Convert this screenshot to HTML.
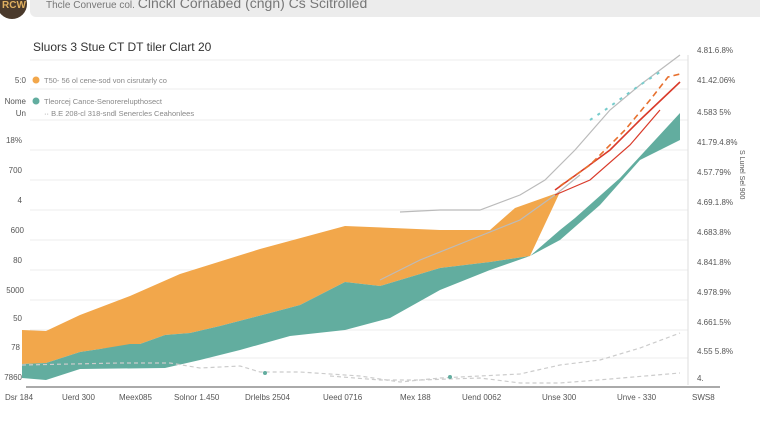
<!DOCTYPE html>
<html><head><meta charset="utf-8"><style>
body{margin:0;width:760px;height:426px;background:#fff;overflow:hidden;font-family:"Liberation Sans",sans-serif}
</style></head><body>
<svg width="760" height="426" viewBox="0 0 760 426" xmlns="http://www.w3.org/2000/svg" font-family="Liberation Sans, sans-serif">
<rect x="30" y="-6" width="740" height="23" rx="6" fill="#ececec"/>
<circle cx="12" cy="4" r="15" fill="#4a3a2c"/>
<text x="2" y="8" font-size="10" fill="#e0b060" font-weight="bold">RCW</text>
<text x="46" y="8" font-size="10" fill="#777">Thcle Converue col. <tspan font-size="14">Clnckl Cornabed (cngn) Cs Scitrolled</tspan></text>
<text x="33" y="51" font-size="12" fill="#333">Sluors 3  Stue CT DT tiler Clart 20</text>
<g stroke="#eee" stroke-width="1">
<line x1="30" y1="60" x2="688" y2="60"/><line x1="30" y1="89" x2="688" y2="89"/><line x1="30" y1="120" x2="688" y2="120"/>
<line x1="30" y1="150" x2="688" y2="150"/><line x1="30" y1="180" x2="688" y2="180"/><line x1="30" y1="210" x2="688" y2="210"/>
<line x1="30" y1="240" x2="688" y2="240"/><line x1="30" y1="270" x2="688" y2="270"/><line x1="30" y1="300" x2="688" y2="300"/>
<line x1="30" y1="330" x2="688" y2="330"/><line x1="30" y1="358" x2="688" y2="358"/>
</g>
<line x1="688" y1="55" x2="688" y2="385" stroke="#ddd"/>
<polygon fill="#f2a74b" points="22,330 46,331 80,315 130,296 180,274 260,249 345,226 440,230 490,230 515,208 560,192 530,256 490,262 440,268 380,286 345,282 300,305 270,313 220,326 190,333 165,335 140,344 100,349 80,352 46,363 22,364"/>
<polygon fill="#62ad9f" points="22,364 46,363 80,352 100,349 130,344 140,344 165,335 190,333 220,326 270,313 300,305 345,282 380,286 440,268 490,262 530,256 560,230 575,218 620,178 680,113 680,140 640,160 600,205 560,240 530,256 490,270 440,290 390,318 345,330 290,336 240,350 200,360 165,368 80,369 46,380 22,378"/>
<g fill="none" stroke-width="1.2">
<polyline stroke="#bbb" points="400,212 440,210 480,210 520,195 545,180 575,150 610,110 640,85 680,55"/>
<polyline stroke="#bbb" points="380,280 420,260 470,240 520,220 555,195 580,175"/>
<polyline stroke="#7cc" stroke-dasharray="3,6" stroke-width="2" points="590,120 605,110 640,85 660,72"/>
<polyline stroke="#d93a2a" stroke-width="1.6" points="555,190 580,172 610,150 640,120 680,82"/>
<polyline stroke="#d93a2a" points="555,195 590,180 630,145 660,110"/>
<polyline stroke="#e7702e" stroke-dasharray="6,4" stroke-width="1.6" points="560,186 590,165 625,130 650,100 668,77 680,74"/>
<polyline stroke="#ccc" stroke-dasharray="4,3" points="22,365 120,363 170,363 200,368 240,366 260,372 300,372 360,376 400,382 440,378 520,374 560,365 600,360 640,348 680,333"/>
<polyline stroke="#ccc" stroke-dasharray="4,3" points="330,376 380,380 420,380 480,378 520,383 560,383 610,379 680,373"/>
</g>
<circle cx="265" cy="373" r="2" fill="#62ad9f"/><circle cx="450" cy="377" r="2" fill="#62ad9f"/>
<line x1="26" y1="387" x2="720" y2="387" stroke="#555"/>
<circle cx="36" cy="80" r="3.5" fill="#f2a74b"/><circle cx="36" cy="101" r="3.5" fill="#62ad9f"/>
<g font-size="7.5" fill="#888">
<text x="44" y="83">T50- 56 ol cene-sod  von cisrutarly co</text>
<text x="44" y="104">Tleorcej Cance-Senorerelupthosect</text>
<text x="44" y="116">·· B.E 208-cl 318-sndl Senercles Ceahonlees</text>
</g>
<g font-size="8" fill="#555" text-anchor="end">
<text x="26" y="83">5:0</text><text x="26" y="104">Nome</text><text x="26" y="116">Un</text>
<text x="22" y="143">18%</text><text x="22" y="173">700</text><text x="22" y="203">4</text><text x="24" y="233">600</text>
<text x="22" y="263">80</text><text x="24" y="293">5000</text><text x="22" y="321">50</text><text x="20" y="350">78</text><text x="22" y="380">7860</text>
</g>
<g font-size="8" fill="#555">
<text x="697" y="53">4.81.6.8%</text><text x="697" y="83">41.42.06%</text><text x="697" y="115">4.583 5%</text>
<text x="697" y="145">41.79.4.8%</text><text x="697" y="175">4.57.79%</text><text x="697" y="205">4.69.1.8%</text>
<text x="697" y="235">4.683.8%</text><text x="697" y="265">4.841.8%</text><text x="697" y="295">4.978.9%</text>
<text x="697" y="325">4.661.5%</text><text x="697" y="354">4.55 5.8%</text><text x="697" y="381">4.</text>
<text x="740" y="150" transform="rotate(90 740 150)" font-size="7">S Lunel Sel 900</text>
</g>
<g font-size="8" fill="#555">
<text x="5" y="400">Dsr 184</text><text x="62" y="400">Uerd 300</text><text x="119" y="400">Meex085</text>
<text x="174" y="400">Solnor 1.450</text><text x="245" y="400">Drlelbs 2504</text><text x="323" y="400">Ueed 0716</text>
<text x="400" y="400">Mex 188</text><text x="462" y="400">Uend 0062</text><text x="542" y="400">Unse 300</text>
<text x="617" y="400">Unve - 330</text><text x="692" y="400">SWS8</text>
</g>
</svg>
</body></html>
